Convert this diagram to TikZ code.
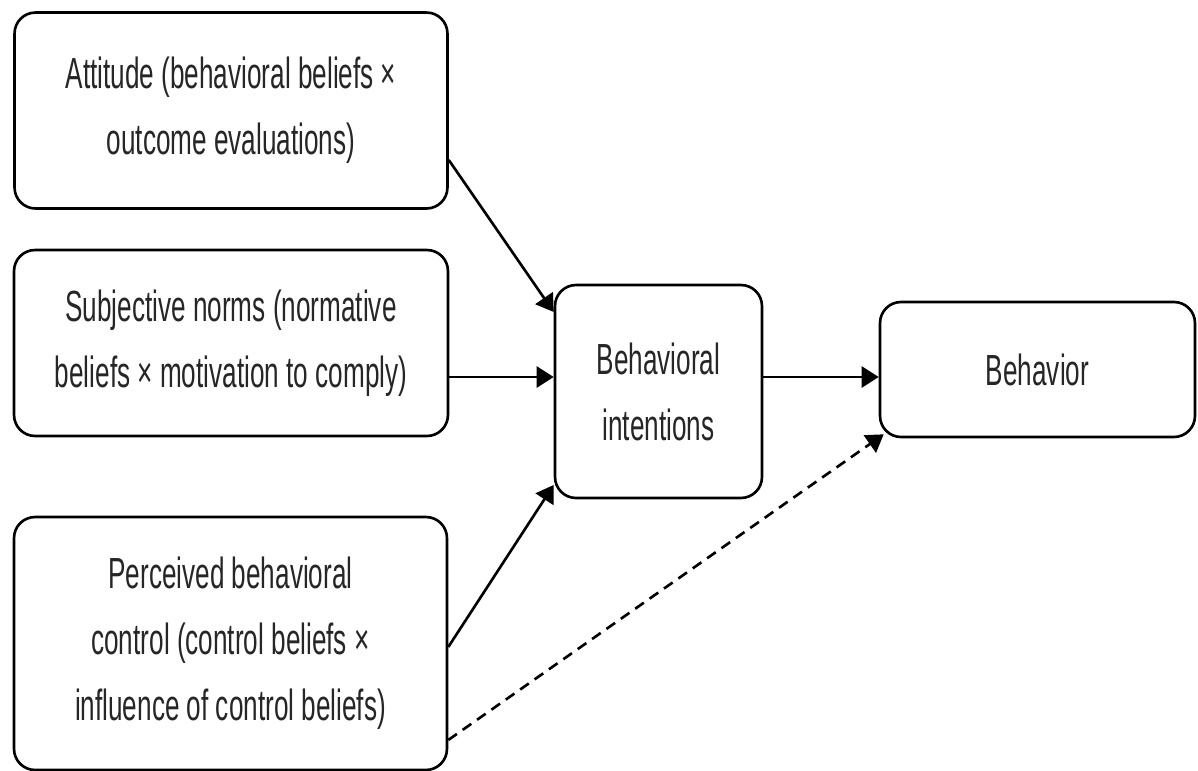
\documentclass[tikz,border=0pt]{standalone}
\usepackage{fontspec}
\setmainfont[FakeStretch=0.6]{Liberation Sans}
\usetikzlibrary{arrows.meta}
\tikzset{
    factor/.style={draw, line width=1.5pt, rounded corners=0.42cm, align=center,
        font=\fontsize{24.8}{37.5}\selectfont, inner sep=0pt, text=black!85},
    link/.style={-{Triangle[length=0.34cm, width=0.42cm]}, line width=1.5pt},
}

\begin{document}
\begin{tikzpicture}[x=0.02cm, y=-0.02cm]
    \useasboundingbox (0,0) rectangle (1198,771);
    % the three determinants
    \node[factor, minimum width=8.66cm, minimum height=3.92cm] (attitude) at (231,110.5)
        {Attitude (behavioral beliefs ×\\outcome evaluations)};
    \node[factor, minimum width=8.68cm, minimum height=3.72cm] (norms) at (231,343)
        {Subjective norms (normative\\beliefs × motivation to comply)};
    \node[factor, minimum width=8.66cm, minimum height=5.06cm] (control) at (230.5,643.5)
        {Perceived behavioral\\control (control beliefs ×\\influence of control beliefs)};
    % intention and behavior
    \node[factor, minimum width=4.14cm, minimum height=4.26cm] (intent) at (658.5,391.5)
        {Behavioral\\intentions};
    \node[factor, minimum width=6.3cm, minimum height=2.7cm] (behav) at (1037.5,369.5)
        {Behavior};
    \draw[link] ([yshift=-0.99cm]attitude.east) -- ([yshift=1.59cm]intent.west);
    \draw[link] ([yshift=0.29cm]intent.west -| norms.east) -- ([yshift=0.29cm]intent.west);
    \draw[link] ([yshift=-0.07cm]control.east) -- ([yshift=-1.87cm]intent.west);
    \draw[link] ([yshift=0.29cm]intent.east) -- ([yshift=0.29cm]intent.east -| behav.west);
    \draw[link, dash pattern=on 6pt off 4pt]
        ([yshift=-1.93cm]control.east) -- ([xshift=0.1cm, yshift=0.08cm]behav.south west);
\end{tikzpicture}
\end{document}
